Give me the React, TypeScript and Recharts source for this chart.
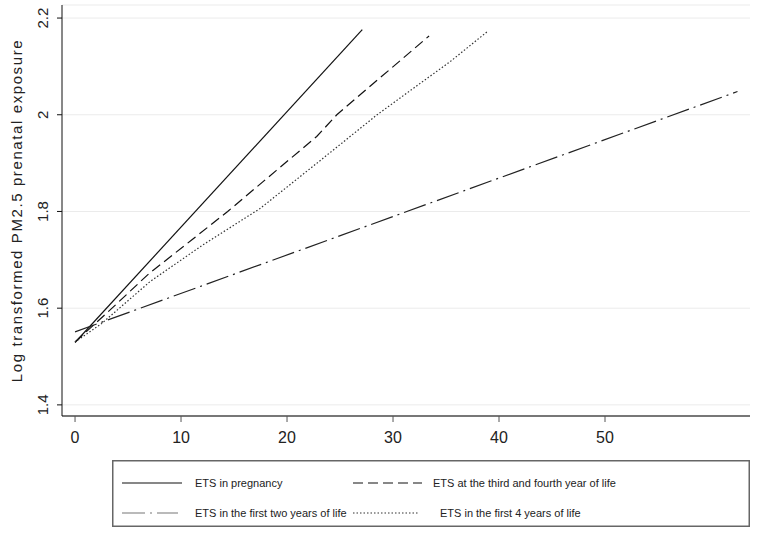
import { LineChart, Line, XAxis, YAxis, CartesianGrid, Legend } from "recharts";

// values (x = exposure, y = log PM2.5)
const pregnancyX = [0, 27.1];
const pregnancyY = [1.529, 2.176];

const thirdFourthX = [0, 3, 7, 11, 14.4, 19, 22.8, 24.7, 28, 31, 33.4];
const thirdFourthY = [1.53, 1.59, 1.672, 1.741, 1.8, 1.885, 1.955, 2.0, 2.062, 2.118, 2.163];

const firstTwoX = [0, 62.5];
const firstTwoY = [1.551, 2.048];

const firstFourX = [0, 2.5, 7.08, 12, 17.45, 23, 28.5, 32, 35.4, 38.9];
const firstFourY = [1.53, 1.568, 1.655, 1.73, 1.806, 1.903, 2.0, 2.056, 2.11, 2.172];

const xTicks = [0, 10, 20, 30, 40, 50];
const yTicks = [1.4, 1.6, 1.8, 2, 2.2];

const toRows = (xs: number[], ys: number[]) => xs.map((x, i) => ({ x, y: ys[i] }));

const FONT = "'Liberation Sans', Arial, sans-serif";

const series = [
  { name: "ETS in pregnancy", data: toRows(pregnancyX, pregnancyY), dash: undefined, color: "#111" },
  { name: "ETS at the third and fourth year of life", data: toRows(thirdFourthX, thirdFourthY), dash: "10 5", color: "#111" },
  { name: "ETS in the first two years of life", data: toRows(firstTwoX, firstTwoY), dash: "23 5 2 5", color: "#222" },
  { name: "ETS in the first 4 years of life", data: toRows(firstFourX, firstFourY), dash: "1.5 2", color: "#333" },
];

const YTick = ({ x, y, payload }: any) => (
  <text
    x={x - 7}
    y={y}
    transform={`rotate(-90, ${x - 7}, ${y})`}
    textAnchor="middle"
    fontSize={15}
    fontFamily={FONT}
    fill="#222"
  >
    {payload.value === 2 ? "2" : payload.value.toFixed(1)}
  </text>
);

const LegendBox = () => {
  const sample = (x1: number, x2: number, y: number, s: (typeof series)[number], gray?: boolean) => (
    <line x1={x1} x2={x2} y1={y} y2={y} stroke={gray ? "#777" : s.color} strokeWidth={1.2} strokeDasharray={s.dash} />
  );
  const label = (x: number, y: number, t: string) => (
    <text x={x} y={y} fontSize={11} fontFamily={FONT} fill="#222">
      {t}
    </text>
  );
  return (
    <svg width={638} height={67}>
      <rect x={0.75} y={0.75} width={636.5} height={65.5} fill="#fff" stroke="#666" strokeWidth={1.5} />
      {sample(10, 70, 23, series[0])}
      {label(83, 27, series[0].name)}
      {sample(241, 310, 23, series[1])}
      {label(321, 27, series[1].name)}
      {sample(10, 66, 53, series[2], true)}
      {label(83, 57, series[2].name)}
      {sample(241, 306, 53, series[3])}
      {label(328, 57, series[3].name)}
    </svg>
  );
};

export default function App() {
  return (
    <div style={{ position: "absolute", left: 0, top: 0, background: "#fff" }}>
      <LineChart width={765} height={537} margin={{ top: 5, right: 15, left: 0, bottom: 0 }}>
        <CartesianGrid horizontal vertical={false} stroke="#ebebeb" />
        <XAxis
          type="number"
          dataKey="x"
          domain={[-1.23, 63.68]}
          ticks={xTicks}
          allowDataOverflow
          height={121}
          axisLine={{ stroke: "#777", strokeWidth: 2 }}
          tickLine={{ stroke: "#555" }}
          tickSize={6}
          tickMargin={10}
          tick={{ fontSize: 16, fontFamily: FONT, fill: "#222" }}
        />
        <YAxis
          type="number"
          dataKey="y"
          domain={[1.377, 2.227]}
          ticks={yTicks}
          allowDataOverflow
          width={62}
          axisLine={{ stroke: "#111" }}
          tickLine={{ stroke: "#111" }}
          tickSize={5}
          tick={<YTick />}
          label={{
            value: "Log transformed PM2.5 prenatal exposure",
            angle: -90,
            position: "insideLeft",
            dx: 12,
            dy: 0,
            style: { fontSize: 15, fontFamily: FONT, fill: "#222", letterSpacing: 1.6, textAnchor: "middle" },
          }}
        />
        <Legend
          layout="horizontal"
          verticalAlign="middle"
          align="center"
          wrapperStyle={{ position: "absolute", left: 112, top: 460, width: 638, height: 67 }}
          content={() => <LegendBox />}
        />
        {series.map((s) => (
          <Line
            key={s.name}
            data={s.data}
            dataKey="y"
            name={s.name}
            type="linear"
            stroke={s.color}
            strokeWidth={1.2}
            strokeDasharray={s.dash}
            dot={false}
            activeDot={false}
            isAnimationActive={false}
          />
        ))}
      </LineChart>
    </div>
  );
}
